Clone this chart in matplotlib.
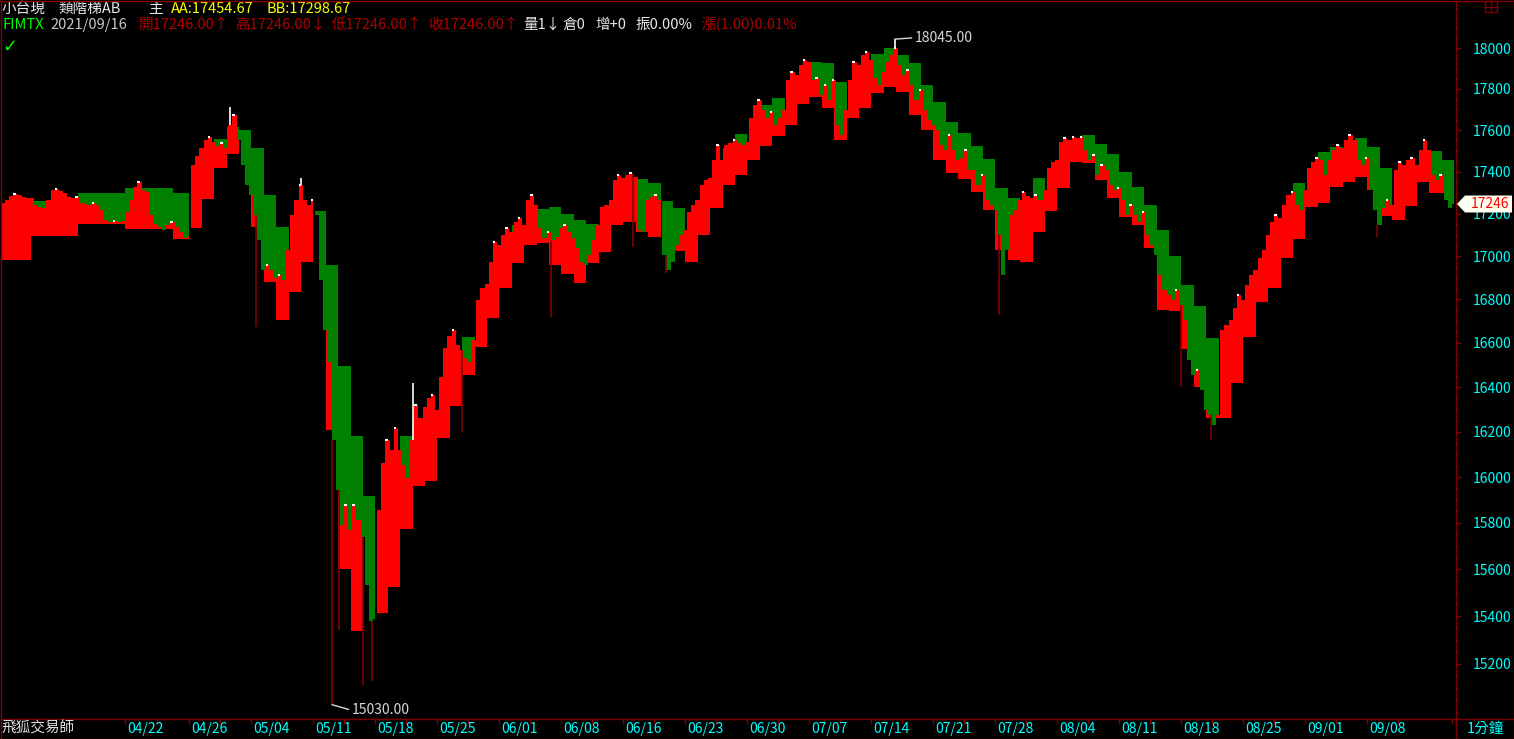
import numpy as np
import matplotlib
matplotlib.use("Agg")
import matplotlib.pyplot as plt
from matplotlib.lines import Line2D
from matplotlib.patches import Polygon, Rectangle
from matplotlib.ticker import NullFormatter
from matplotlib.transforms import blended_transform_factory, offset_copy

plt.rcParams['font.family'] = ['Noto Sans CJK TC', 'DejaVu Sans']

# session lengths in units of one regular (day-only) session
session_len = [2.42, 3.79, 3.79, 3.87, 1.33] + [1.0] * 102

# ladder levels per session: upper (green top, AA) and lower (red bottom, BB)
upper = [
    None, 17260, 17298, 17322, 17298,
    None, None, 17557, 17615, 17601, 17514, 17289, 17138, None, None,
    17213, 16961, 16496, 16183, 15918, None, None, 16183, 16263, None,
    None, None, 16628, None, None, None, 17148, None, 17222, 17232,
    17199, 17171, 17152, None, None, None, 17365, 17346, 17260, 17227,
    None, None, None, 17514, 17581, None, 17722, 17756, None, None,
    17932, 17927, 17834, None, None, 17972, 18000, 17967, 17927, 17820,
    17737, 17640, 17586, 17523, 17461, 17322, 17275, None, 17370, None,
    None, None, 17576, 17533, 17485, 17398, 17327, 17241, 17124, 17002,
    16868, 16771, 16623, None, None, None, None, None, None, 17346,
    None, 17494, 17518, None, 17562, 17518, 17418, None, None, None,
    17499, 17455,
]
lower = [
    16984, 17096, 17152, 17129, 17082,
    17134, 17270, 17418, 17485, None, 17138, 16882, 16706, 16835, 16975,
    None, 16210, 15599, 15336, None, 15415, 15522, 15775, 15962, 15984,
    16174, 16316, 16456, 16583, 16715, 16854, 16970, 17054, 17063, 16961,
    16919, 16877, 16970, 17021, 17148, 17162, 17115, 17091, None, 17026,
    16975, 17101, 17227, 17336, 17384, 17456, 17523, 17572, 17625, 17727,
    17761, 17707, 17552, 17659, 17707, 17781, 17810, 17786, 17673, 17601,
    17456, 17394, 17365, 17303, 17218, 17030, 16984, 16975, 17115, 17213,
    17322, 17446, 17442, 17360, 17275, 17185, 17148, 17040, 16752, 16747,
    16574, 16401, 16263, 16263, 16420, 16628, 16789, 16854, 16993, 17082,
    17232, 17251, 17327, 17350, 17374, 17312, 17190, 17171, 17237, 17350,
    17298, 17299,
]

# price, three samples per regular session
close = [
    17251, 17265, 17284, 17293, 17289, 17279, 17275, 17275, 17241, 17232, 17227, 17265,
    17312, 17317, 17308, 17298, 17279, 17275, 17279, 17251, 17246, 17241, 17251, 17241,
    17218, 17171, 17162, 17166, 17162, 17166, 17209, 17265, 17327, 17350, 17312, 17303,
    17195, 17152, 17138, 17124, 17148, 17162, 17138, 17115, 17086, 17096, 17432, 17475,
    17514, 17552, 17567, 17542, 17523, 17538, 17514, 17625, 17673, 17552, 17432, 17336,
    17289, 17195, 17077, 16938, 16961, 16938, 16900, 16914, 16891, 17030, 17195, 17265,
    17336, 17265, 17241, 17265, 17195, 16891, 16660, 16515, 16165, 15945, 15792, 15879,
    15770, 15879, 15814, 15740, 15534, 15378, 15386, 15857, 16063, 16165, 16120, 16218,
    16120, 16054, 15997, 16165, 16321, 16263, 16312, 16352, 16366, 16299, 16447, 16578,
    16632, 16660, 16592, 16569, 16533, 16515, 16614, 16798, 16854, 16873, 16975, 17068,
    17054, 17101, 17134, 17115, 17162, 17180, 17148, 17265, 17289, 17241, 17134, 17086,
    17115, 17077, 17091, 17134, 17148, 17115, 17086, 17040, 16975, 16961, 17007, 17077,
    17148, 17232, 17241, 17265, 17360, 17384, 17370, 17384, 17394, 17374, 17124, 17115,
    17265, 17279, 17289, 17265, 17007, 16938, 16975, 17054, 17101, 17124, 17209, 17241,
    17265, 17336, 17360, 17370, 17456, 17528, 17456, 17528, 17538, 17552, 17538, 17528,
    17542, 17659, 17722, 17746, 17697, 17659, 17688, 17625, 17659, 17697, 17844, 17883,
    17869, 17918, 17942, 17932, 17844, 17854, 17771, 17820, 17746, 17844, 17625, 17576,
    17697, 17844, 17932, 17918, 17967, 17982, 17942, 17854, 17820, 17883, 17932, 17967,
    18000, 17918, 17869, 17893, 17820, 17746, 17795, 17697, 17649, 17625, 17601, 17528,
    17504, 17576, 17504, 17456, 17466, 17504, 17408, 17408, 17336, 17384, 17265, 17241,
    17218, 17101, 16914, 17030, 17195, 17218, 17265, 17303, 17284, 17275, 17289, 17265,
    17312, 17418, 17446, 17456, 17542, 17562, 17552, 17567, 17562, 17567, 17504, 17456,
    17480, 17384, 17432, 17408, 17336, 17312, 17322, 17265, 17195, 17241, 17195, 17162,
    17209, 17101, 17054, 17007, 16914, 16845, 16821, 16798, 16845, 16775, 16706, 16524,
    16456, 16478, 16388, 16299, 16276, 16232, 16276, 16660, 16683, 16706, 16761, 16821,
    16798, 16868, 16914, 16938, 16993, 17030, 17101, 17162, 17195, 17180, 17241, 17289,
    17303, 17241, 17218, 17312, 17418, 17446, 17466, 17456, 17384, 17456, 17504, 17528,
    17514, 17552, 17576, 17552, 17456, 17432, 17466, 17312, 17218, 17148, 17227, 17265,
    17241, 17408, 17446, 17432, 17456, 17466, 17432, 17504, 17552, 17504, 17384, 17360,
    17384, 17265, 17227, 17246,
]

# wicks (session position, extreme price)
wick_x = [18.47, 20.56, 24.19, 26.69, 27.26, 29.19, 29.92, 33.23, 37.18, 44.35,
          50.97, 53.6, 72.1, 80.5, 95.2, 97.6, 111.0]
wick_p = [17712, 16674, 17370, 15030, 15340, 15110, 15127, 16420, 16200, 16720,
          17045, 16924, 18045, 16730, 16400, 16165, 17091]

date_labels = ['04/22', '04/26', '05/04', '05/11', '05/18', '05/25', '06/01', '06/08',
               '06/16', '06/23', '06/30', '07/07', '07/14', '07/21', '07/28', '08/04',
               '08/11', '08/18', '08/25', '09/01', '09/08']
date_box = [3, 5, 10, 15, 20, 25, 30, 35, 40, 45, 50, 55, 60, 65, 70, 75, 80, 85, 90, 95, 100]

price_ticks = list(range(15200, 18001, 200))
price_minor = list(range(15000, 18201, 50))

W, H = 1514, 739
RED = '#ff0000'
GREEN = '#008000'
DKRED = '#800000'
CYAN = '#00ffff'

fig = plt.figure(figsize=(W / 100, H / 100), dpi=100, facecolor='black')
ax = fig.add_axes([1 / W, 20 / H, 1455 / W, 718 / H], facecolor='black')
ax.set_yscale('log')

edges = np.concatenate([[0.0], np.cumsum(session_len)])
P_s = np.array(close, dtype=float)
xs = np.arange(len(P_s)) / 3.0
A_s = np.array([np.nan if v is None else v for v in upper], dtype=float)
B_s = np.array([np.nan if v is None else v for v in lower], dtype=float)

end = edges[-1]
bp = np.unique(np.concatenate([xs, edges[:-1]]))
bp = bp[bp < end]
wd = np.diff(np.append(bp, end))
pi = np.clip(np.searchsorted(xs, bp, side='right') - 1, 0, len(P_s) - 1)
bi = np.clip(np.searchsorted(edges, bp, side='right') - 1, 0, len(A_s) - 1)
P = P_s[pi]
A = A_s[bi]
B = B_s[bi]

with np.errstate(invalid='ignore'):
    red_m = P > B
    grn_m = P < A
ax.bar(bp[red_m], (P - B)[red_m], bottom=B[red_m], width=wd[red_m], align='edge',
       color=RED, linewidth=0, antialiased=False, zorder=2)
ax.bar(bp[grn_m], (A - P)[grn_m], bottom=P[grn_m], width=wd[grn_m], align='edge',
       color=GREEN, linewidth=0, antialiased=False, zorder=2)

# white marks on local highs
for i in range(1, len(P_s) - 1):
    if P_s[i] > P_s[i - 1] and P_s[i] >= P_s[i + 1]:
        ax.hlines(P_s[i], xs[i], xs[i] + 0.2, color='white', lw=1.5, zorder=3)

for wx, wp in zip(wick_x, wick_p):
    base = P_s[min(int(wx * 3), len(P_s) - 1)]
    col = 'white' if wp > base else DKRED
    ax.vlines(wx, min(base, wp), max(base, wp), color=col, lw=1.2, zorder=3)

ax.set_xlim(0, 1455 / 12.4)
ax.set_ylim(14971, 18235)

# right price axis
ax.yaxis.tick_right()
ax.set_yticks(price_ticks)
ax.set_yticklabels([str(v) for v in price_ticks])
ax.set_yticks(price_minor, minor=True)
ax.yaxis.set_minor_formatter(NullFormatter())
ax.tick_params(axis='y', which='major', direction='out', length=3.6, width=1,
               color=DKRED, labelcolor=CYAN, labelsize=10, pad=8.5)
ax.tick_params(axis='y', which='minor', direction='out', length=1.5, width=1, color=DKRED)

# date axis
tick_pos = [edges[b] for b in date_box]
ax.set_xticks(tick_pos)
ax.set_xticks([(a + b) / 2 for a, b in zip(tick_pos[:-1], tick_pos[1:])] + [tick_pos[-1] + 2.5],
              minor=True)
ax.tick_params(axis='x', which='both', direction='out', length=3.6, width=1, color=DKRED,
               labelbottom=False)
tr_date = offset_copy(blended_transform_factory(ax.transData, ax.transAxes), fig=fig,
                      x=2, y=-10, units='dots')
for lab, xp in zip(date_labels, tick_pos):
    ax.text(xp, 0, lab, transform=tr_date, color=CYAN, fontsize=10, ha='left', va='center',
            clip_on=False)

for s in ['top', 'left']:
    ax.spines[s].set_visible(False)
for s in ['right', 'bottom']:
    ax.spines[s].set_color(DKRED)
    ax.spines[s].set_linewidth(1)

# annotations of extremes
ax.annotate('18045.00', xy=(72.1, 18045), xytext=(14, 1), textcoords='offset points',
            color='#d8d8d8', fontsize=10, ha='left', va='center',
            arrowprops=dict(arrowstyle='-', color='#d8d8d8', lw=1, shrinkA=0, shrinkB=0,
                            relpos=(0, 0.5)))
ax.annotate('15030.00', xy=(26.69, 15030), xytext=(14, -4), textcoords='offset points',
            color='#d8d8d8', fontsize=10, ha='left', va='center',
            arrowprops=dict(arrowstyle='-', color='#d8d8d8', lw=1, shrinkA=0, shrinkB=0,
                            relpos=(0, 0.5)))

# last price tag
fig.canvas.draw()
yp = ax.transData.transform((0, close[-1]))[1]
tag = [(1457, yp), (1465, yp + 8.5), (1512, yp + 8.5), (1512, yp - 8.5), (1465, yp - 8.5)]
fig.add_artist(Polygon([(x / W, y / H) for x, y in tag], closed=True, transform=fig.transFigure,
                       facecolor='#fffff0', edgecolor='none', zorder=5))
fig.text(1490 / W, yp / H, str(close[-1]), color=RED, fontsize=10, ha='center', va='center',
         zorder=6)

# frame lines
def fline(x0, y0, x1, y1):
    fig.add_artist(Line2D([x0 / W, x1 / W], [y0 / H, y1 / H], transform=fig.transFigure,
                          color=DKRED, lw=1, zorder=4))

fline(0.5, 0, 0.5, H)
fline(0, H - 0.5, W, H - 0.5)
fline(W - 0.5, 0, W - 0.5, H)
fline(0, 0.5, W, 0.5)
fline(1456, 20, W, 20)
fline(1456, 0, 1456, 20)
fline(1452, 20, 1452, 16)
fig.add_artist(Rectangle((1485 / W, (H - 12) / H), 12 / W, 11 / H, transform=fig.transFigure,
                         facecolor='none', edgecolor=DKRED, lw=1))
fline(1491, H - 12, 1491, H - 1)
fline(1485, H - 6.5, 1497, H - 6.5)

# header texts
def htext(x, y, s, c, fs=10.5):
    fig.text(x / W, (H - y) / H, s, color=c, fontsize=fs, ha='left', va='center')

htext(2, 9, '小台現', '#e8e8e8')
htext(58, 9, '類階梯AB', '#e8e8e8')
htext(148, 9, '主', '#e8e8e8')
htext(171, 9, 'AA:17454.67', '#ffff00')
htext(267, 9, 'BB:17298.67', '#ffff00')

htext(2, 25, 'FIMTX', '#00ff00')
htext(50, 25, '2021/09/16', '#c8c8c8')
htext(139, 25, '開17246.00↑', '#b00000')
htext(235, 25, '高17246.00↓', '#b00000')
htext(332, 25, '低17246.00↑', '#b00000')
htext(428, 25, '收17246.00↑', '#b00000')
htext(523, 25, '量1↓', '#e8e8e8')
htext(562, 25, '倉0', '#e8e8e8')
htext(595, 25, '增+0', '#e8e8e8')
htext(635, 25, '振0.00%', '#e8e8e8')
htext(701, 25, '漲(1.00)0.01%', '#b00000')
fig.text(2 / W, (H - 47) / H, '✓', color='#00ff00', fontsize=13, ha='left', va='center',
         family='DejaVu Sans', weight='bold')

htext(2, 729, '飛狐交易師', '#e0e0e0')
htext(1467, 729, '1分鐘', CYAN)

fig.savefig('out.png', dpi=100, facecolor='black')
